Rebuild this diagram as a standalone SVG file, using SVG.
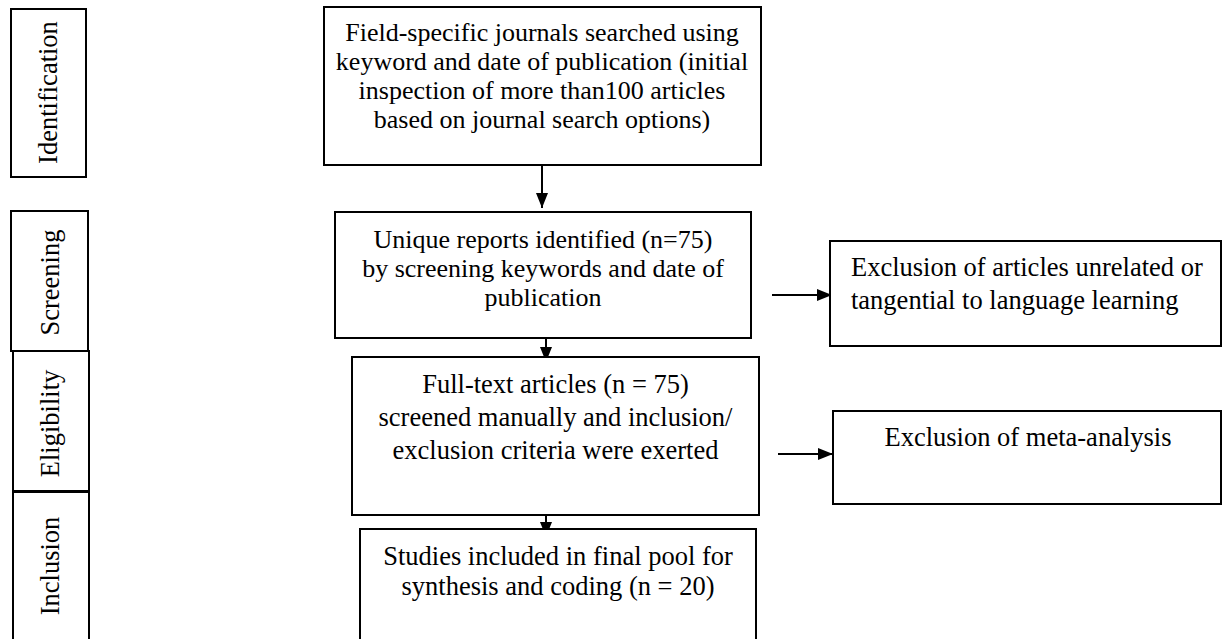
<svg xmlns="http://www.w3.org/2000/svg" width="1222" height="639" viewBox="0 0 1222 639">
<style>
.box{fill:#fff;stroke:#000;stroke-width:2}
.t{font-family:"Liberation Serif","Times New Roman",serif;font-size:26.5px;fill:#000}
.s{font-size:26px}
.c{text-anchor:middle}
.edge{stroke:#000;stroke-width:2;fill:none}
</style>
<defs>
<marker id="ah" viewBox="0 0 15 12" refX="15" refY="6" markerWidth="15" markerHeight="12" markerUnits="userSpaceOnUse" orient="auto">
<path d="M0,0 L15,6 L0,12 Z" fill="#000"/>
</marker>
</defs>
<g id="stages">
<g id="stage-identification"><rect class="box" x="11" y="9" width="75" height="168"/><text class="t c" transform="translate(57,92.5) rotate(-90)">Identification</text></g>
<g id="stage-screening"><rect class="box" x="11" y="211" width="77" height="140"/><text class="t c" transform="translate(59,282.5) rotate(-90)">Screening</text></g>
<g id="stage-eligibility"><rect class="box" x="13" y="351" width="76" height="140"/><text class="t c" transform="translate(59,423.5) rotate(-90)">Eligibility</text></g>
<g id="stage-inclusion"><rect class="box" x="13" y="492" width="76" height="160"/><text class="t c" transform="translate(59,566) rotate(-90)">Inclusion</text></g>
</g>
<g id="connectors">
<line class="edge" x1="542" y1="165" x2="542" y2="208" marker-end="url(#ah)"/>
<line class="edge" x1="546" y1="338" x2="546" y2="362" marker-end="url(#ah)"/>
<line class="edge" x1="546" y1="498" x2="546" y2="537" marker-end="url(#ah)"/>
<line class="edge" x1="772" y1="295" x2="832" y2="295" marker-end="url(#ah)"/>
<line class="edge" x1="778" y1="454" x2="833" y2="454" marker-end="url(#ah)"/>
</g>
<g id="node-search">
<rect class="box" x="324" y="7" width="437" height="158"/>
<text class="t s c" y="41"><tspan x="542">Field-specific journals searched using</tspan><tspan x="542" dy="29">keyword and date of publication (initial</tspan><tspan x="542" dy="29">inspection of more than100 articles</tspan><tspan x="542" dy="29">based on journal search options)</tspan></text>
</g>
<g id="node-unique">
<rect class="box" x="335" y="212" width="416" height="126"/>
<text class="t s c" y="248"><tspan x="543">Unique reports identified (n=75)</tspan><tspan x="543" dy="29">by screening keywords and date of</tspan><tspan x="543" dy="29">publication</tspan></text>
</g>
<g id="node-fulltext">
<rect class="box" x="352" y="357" width="407" height="158"/>
<text class="t c" y="393"><tspan x="555.5">Full-text articles (n = 75)</tspan><tspan x="555.5" dy="33">screened manually and inclusion/</tspan><tspan x="555.5" dy="33">exclusion criteria were exerted</tspan></text>
</g>
<g id="node-included">
<rect class="box" x="360" y="529" width="396" height="130"/>
<text class="t c" y="565"><tspan x="558">Studies included in final pool for</tspan><tspan x="558" dy="30">synthesis and coding (n = 20)</tspan></text>
</g>
<g id="node-excl-unrelated">
<rect class="box" x="830" y="241" width="391" height="105"/>
<text class="t" y="276"><tspan x="851">Exclusion of articles unrelated or</tspan><tspan x="851" dy="33">tangential to language learning</tspan></text>
</g>
<g id="node-excl-meta">
<rect class="box" x="833" y="411" width="388" height="93"/>
<text class="t c" x="1028" y="446">Exclusion of meta-analysis</text>
</g>
</svg>
